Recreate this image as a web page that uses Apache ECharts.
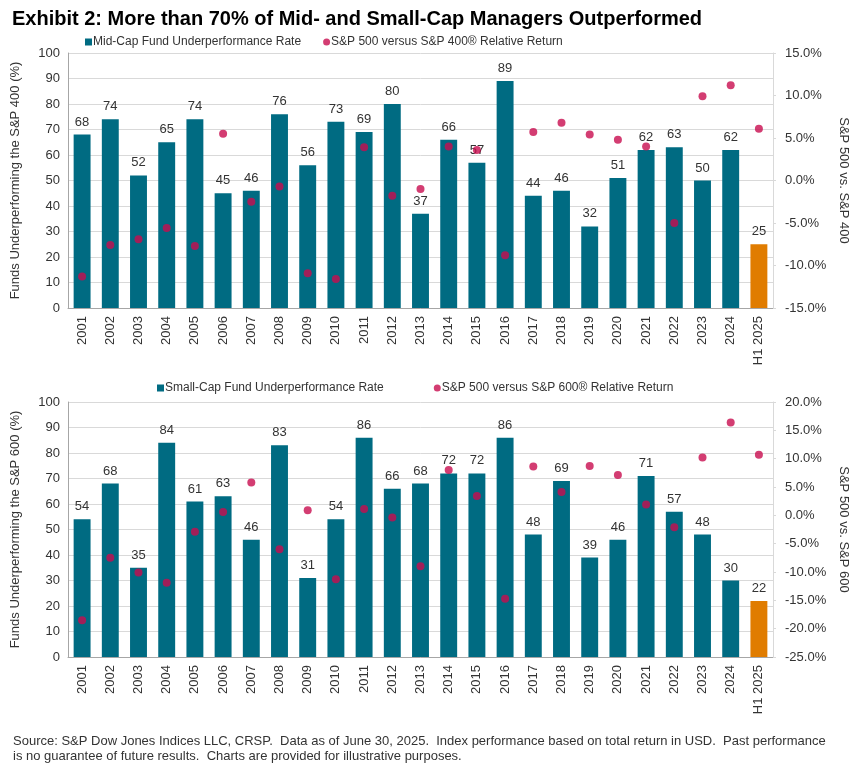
<!DOCTYPE html>
<html><head><meta charset="utf-8">
<script src="https://cdn.jsdelivr.net/npm/echarts@6/dist/echarts.min.js"></script>
<style>html,body{margin:0;padding:0;background:#fff}#c{width:867px;height:769px}</style>
</head><body><div id="c"></div>
<script>
const categories = ['2001','2002','2003','2004','2005','2006','2007','2008','2009','2010','2011','2012','2013','2014','2015','2016','2017','2018','2019','2020','2021','2022','2023','2024','H1 2025'];
const midCapRate = [68,74,52,65,74,45,46,76,56,73,69,80,37,66,57,89,44,46,32,51,62,63,50,62,25];
const midRelReturn = [-11.3,-7.6,-6.9,-5.6,-7.7,5.5,-2.5,-0.7,-10.9,-11.6,3.9,-1.8,-1.0,4.0,3.6,-8.8,5.7,6.8,5.4,4.8,4.0,-5.0,9.9,11.2,6.1];
const smallCapRate = [54,68,35,84,61,63,46,83,31,54,86,66,68,72,72,86,48,69,39,46,71,57,48,30,22];
const smallRelReturn = [-18.5,-7.5,-10.1,-11.9,-2.9,0.6,5.8,-6.0,0.9,-11.3,1.1,-0.4,-9.0,8.0,3.4,-14.7,8.6,4.1,8.7,7.1,1.9,-2.1,10.2,16.4,10.7];
const leftTicks = {min:0,max:100,interval:10};
const topRightTicks = {min:-15,max:15,interval:5};
const botRightTicks = {min:-25,max:20,interval:5};

const TEAL = '#006b82', ORANGE = '#e07c00', RED = '#c80d4f';
const FONT = '"Liberation Sans",Arial,sans-serif';
const TXT = '#333';

function barData(vals){
  return vals.map((v,i)=> i===vals.length-1 ? {value:v,itemStyle:{color:ORANGE}} : v);
}
function xAx(gi){
  return {type:'category',gridIndex:gi,data:categories,
    axisLine:{lineStyle:{color:'#a6a6a6'}},axisTick:{show:false},
    axisLabel:{rotate:90,fontSize:13,color:TXT,fontFamily:FONT,margin:8,interval:0}};
}
function yLeft(gi,name){
  return {type:'value',gridIndex:gi,min:leftTicks.min,max:leftTicks.max,interval:leftTicks.interval,
    name:name,nameLocation:'middle',nameRotate:90,nameGap:46,
    nameTextStyle:{fontSize:13,color:TXT,fontFamily:FONT},
    axisLine:{show:true,lineStyle:{color:'#a6a6a6'}},axisTick:{show:false},
    axisLabel:{fontSize:13,color:TXT,fontFamily:FONT,margin:8},
    splitLine:{lineStyle:{color:'#d9d9d9'}}};
}
function yRight(gi,name,t){
  return {type:'value',gridIndex:gi,position:'right',min:t.min,max:t.max,interval:t.interval,
    name:name,nameLocation:'middle',nameRotate:-90,nameGap:60,
    nameTextStyle:{fontSize:13,color:TXT,fontFamily:FONT},
    axisLine:{show:true,lineStyle:{color:'#d9d9d9'}},axisTick:{show:true,length:3,lineStyle:{color:'#d9d9d9'}},
    axisLabel:{fontSize:13,color:TXT,fontFamily:FONT,margin:12,formatter:v=>v.toFixed(1)+'%'},
    splitLine:{show:false}};
}
const chart = echarts.init(document.getElementById('c'));
chart.setOption({
  animation:false,
  backgroundColor:'#fff',
  title:[
    {text:'Exhibit 2: More than 70% of Mid- and Small-Cap Managers Outperformed',left:7,top:4,
     textStyle:{fontSize:20,fontWeight:'bold',color:'#000',fontFamily:FONT}},
    {text:'Source: S&P Dow Jones Indices LLC, CRSP.  Data as of June 30, 2025.  Index performance based on total return in USD.  Past performance\nis no guarantee of future results.  Charts are provided for illustrative purposes.',
     left:8,top:729,textStyle:{fontSize:13,fontWeight:'normal',color:TXT,fontFamily:FONT,lineHeight:15}}
  ],
  legend:[
    {data:[{name:'Mid-Cap Fund Underperformance Rate',icon:'rect'},{name:'S&P 500 versus S&P 400® Relative Return',icon:'circle'}],
     left:80,top:31,itemWidth:7,itemHeight:7,itemGap:22,textStyle:{fontSize:12,color:TXT,fontFamily:FONT,padding:[0,0,0,-4]}},
    {data:[{name:'Small-Cap Fund Underperformance Rate',icon:'rect'},{name:'S&P 500 versus S&P 600® Relative Return',icon:'circle'}],
     left:152,top:377,itemWidth:7,itemHeight:7,itemGap:50,textStyle:{fontSize:12,color:TXT,fontFamily:FONT,padding:[0,0,0,-4]}}
  ],
  grid:[
    {left:68,right:94,top:53,height:255},
    {left:68,right:94,top:402,height:255}
  ],
  xAxis:[xAx(0),xAx(1)],
  yAxis:[
    yLeft(0,'Funds Underperforming the S&P 400 (%)'),
    yRight(0,'S&P 500 vs. S&P 400',topRightTicks),
    yLeft(1,'Funds Underperforming the S&P 600 (%)'),
    yRight(1,'S&P 500 vs. S&P 600',botRightTicks)
  ],
  series:[
    {name:'Mid-Cap Fund Underperformance Rate',type:'bar',xAxisIndex:0,yAxisIndex:0,data:barData(midCapRate),
     barWidth:'60%',itemStyle:{color:TEAL},
     label:{show:true,position:'top',fontSize:13,color:TXT,fontFamily:FONT,distance:6}},
    {name:'S&P 500 versus S&P 400® Relative Return',type:'scatter',xAxisIndex:0,yAxisIndex:1,data:midRelReturn,
     symbolSize:8,itemStyle:{color:RED},z:5},
    {name:'Small-Cap Fund Underperformance Rate',type:'bar',xAxisIndex:1,yAxisIndex:2,data:barData(smallCapRate),
     barWidth:'60%',itemStyle:{color:TEAL},
     label:{show:true,position:'top',fontSize:13,color:TXT,fontFamily:FONT,distance:6}},
    {name:'S&P 500 versus S&P 600® Relative Return',type:'scatter',xAxisIndex:1,yAxisIndex:3,data:smallRelReturn,
     symbolSize:8,itemStyle:{color:RED},z:5}
  ]
});
</script></body></html>
